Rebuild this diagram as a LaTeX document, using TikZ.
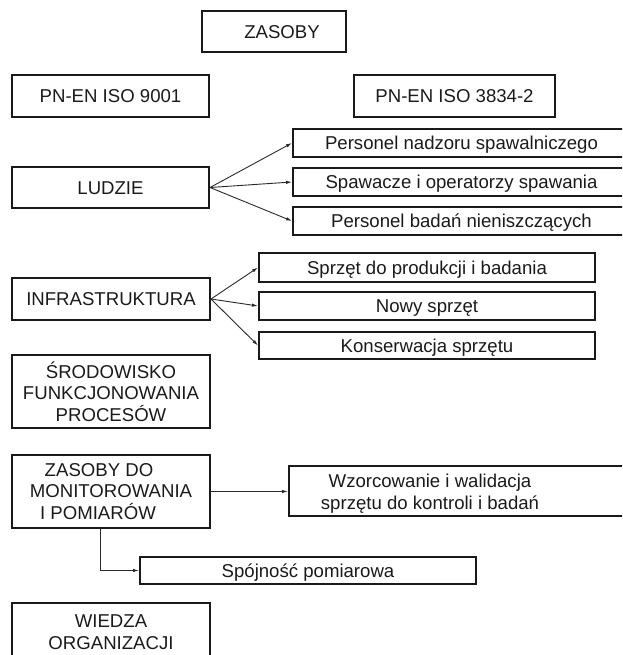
\documentclass[tikz,border=0pt]{standalone}
\usepackage{fontspec}
\setmainfont{Liberation Sans}
\usetikzlibrary{arrows.meta}
\definecolor{linec}{HTML}{1A1A1A}
\definecolor{txtc}{HTML}{1A1A1A}
\definecolor{arrc}{HTML}{2A2A2A}
\newcommand{\diagfont}{\fontsize{18.6pt}{21.7pt}\selectfont}
\begin{document}
\begin{tikzpicture}[x=1pt,y=-1pt,
  box/.style={draw=linec, line width=2pt, inner sep=0pt, text=txtc, font=\diagfont},
  one/.style={box, text height=13.3pt, text depth=0pt},
  multi/.style={box, align=center},
  txtnode/.style={inner sep=0pt, text=txtc, font=\diagfont, align=center},
  arr/.style={draw=arrc, line width=0.9pt, -{Latex[length=6pt,width=3.5pt]}}]
\useasboundingbox (0,0) rectangle (622,655);
\clip (0,0) rectangle (622,655);
% top
\node[one, minimum width=144pt, minimum height=41pt] (zas) at (274,31.5) {\hspace*{16pt}ZASOBY};
\node[one, minimum width=197pt, minimum height=42pt] (iso9) at (110.5,96) {PN-EN ISO 9001};
\node[one, minimum width=201pt, minimum height=42pt] (iso3) at (454.5,96) {PN-EN ISO 3834-2};
% ludzie
\node[one, minimum width=197pt, minimum height=41pt] (lud) at (110.5,187.5) {LUDZIE};
\node[one, minimum width=337pt, minimum height=28pt] (p1) at (461.5,143) {Personel nadzoru spawalniczego};
\node[one, minimum width=337pt, minimum height=28pt] (p2) at (461.5,182) {Spawacze i operatorzy spawania};
\node[one, minimum width=337pt, minimum height=28pt] (p3) at (461.5,221) {Personel badań nieniszczących};
% infrastruktura
\node[one, minimum width=198pt, minimum height=42pt] (inf) at (111,299) {INFRASTRUKTURA};
\node[one, minimum width=336pt, minimum height=29pt] (s1) at (427,267.5) {Sprzęt do produkcji i badania};
\node[one, minimum width=336pt, minimum height=28pt] (s2) at (427,306) {Nowy sprzęt};
\node[one, minimum width=336pt, minimum height=27pt] (s3) at (427,345.5) {Konserwacja sprzętu};
% srodowisko
\node[multi, minimum width=198pt, minimum height=73pt] (sro) at (111,391.5) {ŚRODOWISKO\\FUNKCJONOWANIA\\PROCESÓW};
% monitorowanie
\node[multi, minimum width=198pt, minimum height=73pt] (mon) at (111,491.5) {ZASOBY DO\hspace*{24pt}\\MONITOROWANIA\\I POMIARÓW\hspace*{26pt}};
\node[box, minimum width=341pt, minimum height=50pt] (wz) at (459.5,491) {};
\node[txtnode] (wzt) at (430,494) {Wzorcowanie i walidacja\\sprzętu do kontroli i badań};
\node[one, minimum width=336pt, minimum height=27pt] (sp) at (308,570.5) {Spójność pomiarowa};
% wiedza
\node[multi, minimum width=198pt, minimum height=58pt] (wie) at (111,632) {WIEDZA\\ORGANIZACJI};
% connectors
\draw[arr] (lud.east) -- (p1.west);
\draw[arr] (lud.east) -- (p2.west);
\draw[arr] (lud.east) -- (p3.west);
\draw[arr] (inf.east) -- (s1.west);
\draw[arr] (inf.east) -- (s2.west);
\draw[arr] (inf.east) -- (s3.west);
\draw[arr] (mon.east) -- (mon.east -| wz.west);
\draw[arr] ([xshift=-11pt]mon.south) |- (sp.west);
\end{tikzpicture}
\end{document}
